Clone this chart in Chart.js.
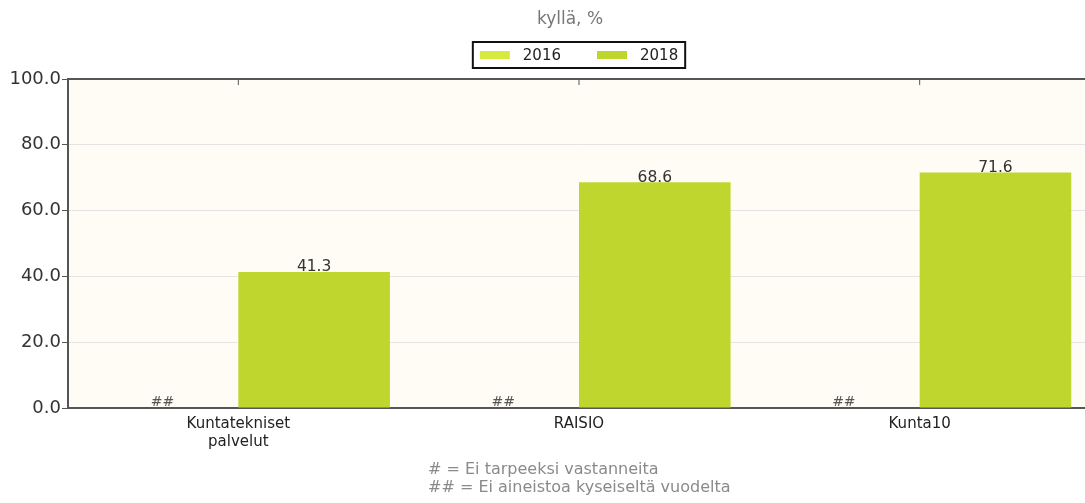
<!DOCTYPE html>
<html>
<head>
<meta charset="utf-8">
<script src="https://cdn.jsdelivr.net/npm/chart.js@4.4.1/dist/chart.umd.min.js"></script>
<style>
  html, body { margin: 0; padding: 0; background: #fff; overflow: hidden; }
  #wrap { position: relative; width: 1100px; height: 503px; }
</style>
</head>
<body>
<div id="wrap"><canvas id="myChart"></canvas></div>
<script>
// DATA
const categories = [["Kuntatekniset", "palvelut"], "RAISIO", "Kunta10"];
const years = ["2016", "2018"];
const values2016 = [null, null, null]; // ## = ei aineistoa
const values2018 = [41.3, 68.6, 71.6];
const yTicks = [0, 20, 40, 60, 80, 100];
const titleText = "kyllä, %";
const notes = ["# = Ei tarpeeksi vastanneita", "## = Ei aineistoa kyseiseltä vuodelta"];

const colors = ["#d6ea3e", "#bfd62f"];
const FONT = "'DejaVu Sans', sans-serif";

// background, frame, title, legend box, footnotes
const decor = {
  id: "decor",
  beforeDraw(chart) {
    const { ctx, chartArea: a } = chart;
    ctx.save();
    ctx.fillStyle = "#fffcf5";
    ctx.fillRect(a.left, a.top, a.right - a.left, a.bottom - a.top);
    ctx.restore();
  },
  afterDraw(chart) {
    const { ctx, chartArea: a, scales } = chart;
    ctx.save();

    // top + right frame
    ctx.strokeStyle = "#555";
    ctx.lineWidth = 2;
    ctx.beginPath();
    ctx.moveTo(a.left, a.top);
    ctx.lineTo(a.right, a.top);
    ctx.lineTo(a.right, a.bottom);
    ctx.stroke();

    // small ticks hanging from the top edge
    ctx.lineWidth = 1;
    categories.forEach((c, i) => {
      const x = scales.x.getPixelForValue(i);
      ctx.beginPath();
      ctx.moveTo(x, a.top);
      ctx.lineTo(x, a.top + 6);
      ctx.stroke();
    });

    const mid = (a.left + a.right) / 2;

    // title
    ctx.font = "17px " + FONT;
    ctx.fillStyle = "#777";
    ctx.textAlign = "center";
    ctx.textBaseline = "middle";
    ctx.fillText(titleText, mid - 9, 20);

    // legend
    ctx.font = "15px " + FONT;
    const w = years.map(t => ctx.measureText(t).width);
    const sw = 30, gap = 13, between = 36, pad = 7;
    const total = pad * 2 + sw * 2 + gap * 2 + w[0] + w[1] + between;
    let x = mid - total / 2;
    const top = 42, h = 26, cy = top + h / 2;
    ctx.strokeStyle = "#111";
    ctx.lineWidth = 2;
    ctx.strokeRect(x, top, total, h);
    x += pad;
    ctx.textAlign = "left";
    years.forEach((t, i) => {
      ctx.fillStyle = colors[i];
      ctx.fillRect(x, cy - 4, sw, 8);
      x += sw + gap;
      ctx.fillStyle = "#222";
      ctx.fillText(t, x, cy + 1);
      x += w[i] + between;
    });

    // footnotes
    ctx.font = "16px " + FONT;
    ctx.fillStyle = "#8a8a8a";
    ctx.fillText(notes[0], 428, 470);
    ctx.fillText(notes[1], 428, 488);
    ctx.restore();
  }
};

// value labels, ## where the year has no data
const valueLabels = {
  id: "valueLabels",
  afterDatasetsDraw(chart) {
    const { ctx, scales } = chart;
    const y0 = scales.y.getPixelForValue(0);
    ctx.save();
    ctx.textAlign = "center";
    ctx.textBaseline = "bottom";
    chart.data.datasets.forEach((ds, di) => {
      const meta = chart.getDatasetMeta(di);
      meta.data.forEach((bar, i) => {
        const v = ds.data[i];
        if (v == null) {
          ctx.font = "14px " + FONT;
          ctx.fillStyle = "#555";
          ctx.fillText("##", bar.x, y0 + 1);
        } else {
          ctx.font = "15.5px " + FONT;
          ctx.fillStyle = "#333";
          ctx.fillText(v.toFixed(1), bar.x, bar.y + 3);
        }
      });
    });
    ctx.restore();
  }
};

const ctx = document.getElementById("myChart");
const chart = new Chart(ctx, {
  type: "bar",
  data: {
    labels: categories,
    datasets: [
      { label: years[0], data: values2016, backgroundColor: colors[0] },
      { label: years[1], data: values2018, backgroundColor: colors[1] },
    ],
  },
  options: {
    responsive: true,
    maintainAspectRatio: false,
    animation: false,
    categoryPercentage: 0.89,
    barPercentage: 1.0,
    layout: { padding: { top: 79, right: 10, bottom: 45, left: 0 } },
    plugins: {
      legend: { display: false },
      title: { display: false },
      tooltip: { enabled: false },
    },
    scales: {
      x: {
        grid: { display: false, drawTicks: false },
        border: { color: "#555", width: 2 },
        ticks: {
          font: { size: 15, family: FONT },
          color: "#222",
          padding: 7,
          maxRotation: 0,
        },
        afterFit(s) { s.height = 50; },
      },
      y: {
        min: 0,
        max: 100,
        afterBuildTicks(s) { s.ticks = yTicks.map(v => ({ value: v })); },
        ticks: {
          callback: v => v.toFixed(1),
          font: { size: 18, family: FONT },
          color: "#333",
          padding: 1,
        },
        grid: { color: "#e4e4e4", tickColor: "#555", tickLength: 6 },
        border: { color: "#555", width: 2 },
        afterFit(s) { s.width = 68; },
      },
    },
  },
  plugins: [decor, valueLabels],
});
</script>
</body>
</html>
